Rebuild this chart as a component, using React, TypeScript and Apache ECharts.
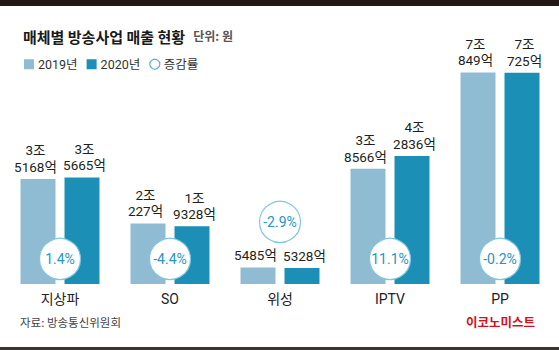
import React, { useEffect, useRef } from "react";
import * as echarts from "echarts";

const categories = ["지상파", "SO", "위성", "IPTV", "PP"];
const sales2019 = [35168, 20227, 5485, 38566, 70849]; // 억 원
const sales2020 = [35665, 19328, 5328, 42836, 70725];
const changeRates = [1.4, -4.4, -2.9, 11.1, -0.2]; // %

const C2019 = "#8fbbd3";
const C2020 = "#1b8fb6";
const CIRCLE_TXT = "#2596c2";
const FONT = "'Noto Sans CJK KR', 'Noto Sans', sans-serif";
const NUMFONT = "Roboto, 'Noto Sans CJK KR', sans-serif";

function fmt(v: number): string {
  const jo = Math.floor(v / 10000);
  const eok = v % 10000;
  return jo > 0 ? `${jo}조\n${eok}억` : `${eok}억`;
}

export default function App() {
  const ref = useRef<HTMLDivElement>(null);
  useEffect(() => {
    if (!ref.current) return;
    const chart = echarts.init(ref.current, null, { renderer: "svg" });
    const circleData = categories.map((_, i) => {
      const m = Math.max(sales2019[i], sales2020[i]);
      return m < 10000 ? m + 15300 : 8400;
    });
    const valueLabel = (dx: number) => ({
      show: true,
      position: "top",
      distance: 4,
      offset: [dx, 0],
      formatter: (p: any) => fmt(p.value),
      fontSize: 13.5,
      lineHeight: 16.5,
      color: "#231f20",
      fontFamily: NUMFONT,
    });
    chart.setOption({
      animation: false,
      textStyle: { fontFamily: FONT },
      title: {
        left: 18,
        top: 22,
        text: "{a|매체별 방송사업 매출 현황}  {b|단위: 원}",
        textStyle: {
          rich: {
            a: { fontSize: 15, fontWeight: "bold", color: "#1a1a1a", fontFamily: FONT },
            b: { fontSize: 12, color: "#555", fontFamily: FONT },
          },
        },
      },
      legend: {
        left: 19,
        top: 53,
        itemWidth: 10,
        itemHeight: 10,
        itemGap: 9,
        textStyle: { fontSize: 12.5, color: "#333", fontFamily: NUMFONT, padding: [0, 0, 0, -1] },
        data: [
          { name: "2019년", icon: "rect" },
          { name: "2020년", icon: "rect" },
          {
            name: "증감률",
            icon: "circle",
            itemStyle: { color: "#fff", borderColor: "#56b4d8", borderWidth: 1.2 },
          },
        ],
      },
      grid: { left: 5, right: 4, top: 60, bottom: 66 },
      xAxis: {
        type: "category",
        data: categories,
        axisLine: { show: false },
        axisTick: { show: false },
        axisLabel: { fontSize: 14, color: "#222", margin: 8, fontFamily: NUMFONT },
      },
      yAxis: {
        type: "value",
        min: 0,
        max: 75000,
        show: false,
        splitLine: { show: false },
      },
      series: [
        {
          name: "2019년",
          type: "bar",
          data: sales2019,
          barWidth: 35,
          barGap: "25.7%",
          itemStyle: { color: C2019 },
          label: valueLabel(-2.5),
        },
        {
          name: "2020년",
          type: "bar",
          data: sales2020,
          barWidth: 35,
          itemStyle: { color: C2020 },
          label: valueLabel(2.5),
        },
        {
          name: "증감률",
          type: "scatter",
          z: 5,
          symbol: "circle",
          symbolSize: 41,
          data: circleData,
          itemStyle: { color: "#fff", borderColor: "#7fc6df", borderWidth: 1.2, opacity: 1 },
          label: {
            show: true,
            position: "inside",
            formatter: (p: any) => `${changeRates[p.dataIndex]}%`,
            fontSize: 14,
            color: CIRCLE_TXT,
            fontFamily: NUMFONT,
          },
        },
      ],
      graphic: [
        { type: "rect", shape: { x: 0, y: 0, width: 559, height: 6 }, style: { fill: "#231815" } },
        { type: "rect", shape: { x: 0, y: 347, width: 559, height: 3 }, style: { fill: "#3a3533" } },
        {
          type: "text",
          left: 20,
          top: 316,
          style: { text: "자료: 방송통신위원회", fontSize: 11.5, fill: "#444", fontFamily: FONT },
        },
        {
          type: "text",
          left: 466,
          top: 315,
          style: {
            text: "이코노미스트",
            fontSize: 12.5,
            fontWeight: "bold",
            fill: "#d0121c",
            fontFamily: FONT,
          },
        },
      ],
    });
    return () => chart.dispose();
  }, []);
  return (
    <div
      ref={ref}
      style={{ position: "absolute", left: 0, top: 0, width: 559, height: 350, background: "#fff" }}
    />
  );
}
